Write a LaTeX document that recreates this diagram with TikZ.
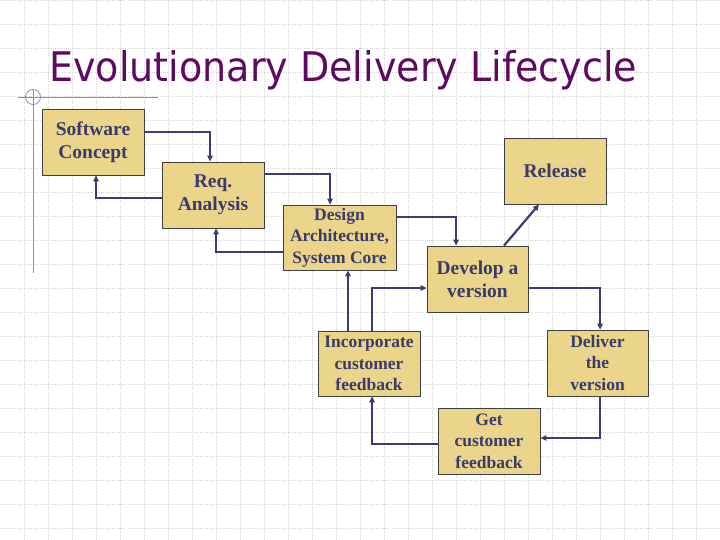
\documentclass[tikz,border=0pt]{standalone}
\usepackage{fontspec}
\setmainfont{Liberation Serif}
\newfontfamily\titlefont{DejaVu Sans}
\usetikzlibrary{arrows.meta}
\definecolor{boxfill}{HTML}{EAD58A}
\definecolor{boxtext}{HTML}{3B3B6B}
\definecolor{arrowc}{HTML}{3C3C74}
\definecolor{titlec}{HTML}{5E0A62}
\definecolor{gridc}{HTML}{D2D2D2}
\definecolor{decoc}{HTML}{8090C8}
\begin{document}
\begin{tikzpicture}[x=1pt,y=-1pt,
  box/.style={draw=black!75, line width=0.8pt, fill=boxfill, text=boxtext, align=center, inner sep=0pt},
  big/.style={font=\fontsize{19.5}{23}\selectfont\bfseries},
  small/.style={font=\fontsize{17.5}{21.5}\selectfont\bfseries},
  conn/.style={draw=arrowc, line width=1.3pt, -{Triangle[length=6pt,width=5.5pt]}},
  thickconn/.style={conn, line width=2.2pt},
  gridline/.style={draw=gridc, line width=0.7pt, dash pattern=on 1pt off 1.2pt}
]
\fill[white] (0,0) rectangle (720,540);
\useasboundingbox (0,0) rectangle (720,540);
\foreach \gx in {24,48,...,696} {\draw[gridline] (\gx,0) -- (\gx,540);}
\foreach \gy in {0,24,...,528} {\draw[gridline] (0,\gy) -- (720,\gy);}

% decoration
\draw[decoc, line width=0.8pt] (18,97) -- (158,97);
\draw[decoc, line width=0.8pt] (33,90) -- (33,273);
\draw[decoc, line width=0.8pt] (33,97) circle (7.5);

% title
\node[anchor=base west, inner sep=0pt, text=titlec] (title) at (49,82)
  {\resizebox{588pt}{31pt}{\titlefont Evolutionary Delivery Lifecycle}};

% boxes
\node[box, big, minimum width=102pt, minimum height=66pt] (sc) at (93,142) {Software\\Concept};
\node[box, big, minimum width=102pt, minimum height=66pt] (req) at (213,195) {Req.\\Analysis};
\node[box, small, minimum width=113pt, minimum height=65pt] (des) at (339.5,237.5) {Design\\Architecture,\\System Core};
\node[box, big, minimum width=102pt, minimum height=66pt] (rel) at (555,171) {Release};
\node[box, big, minimum width=101pt, minimum height=66pt] (dev) at (477.5,279) {Develop a\\version};
\node[box, small, minimum width=101pt, minimum height=66pt] (del) at (597.5,363) {Deliver\\the\\version};
\node[box, small, minimum width=102pt, minimum height=65pt] (inc) at (369,363.5) {Incorporate\\customer\\feedback};
\node[box, small, minimum width=102pt, minimum height=66pt] (get) at (489,441) {Get\\customer\\feedback};

% connectors
\draw[conn] (sc.east |- 0,132) -| (req.north -| 210,0);
\draw[conn] (req.west |- 0,198) -| (sc.south -| 96,0);
\draw[conn] (req.east |- 0,174) -| (des.north -| 330,0);
\draw[conn] (des.west |- 0,252) -| (req.south -| 216,0);
\draw[conn] (des.east |- 0,217) -| (dev.north -| 456,0);
\draw[thickconn] (dev.north -| 504,0) -- (rel.south -| 539,0);
\draw[conn] (dev.east |- 0,288) -| (del.north -| 600,0);
\draw[conn] (del.south -| 600,0) |- (get.east |- 0,438);
\draw[conn] (get.west |- 0,444) -| (inc.south -| 372,0);
\draw[conn] (inc.north -| 372,0) |- (dev.west |- 0,288);
\draw[thickconn] (inc.north -| 348,0) -- (des.south -| 348,0);
\end{tikzpicture}
\end{document}
